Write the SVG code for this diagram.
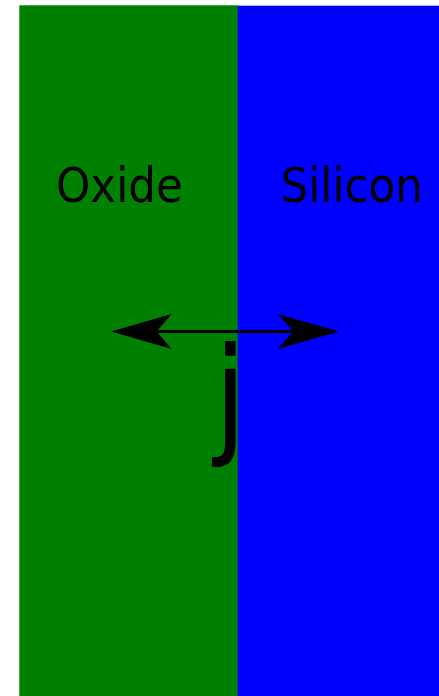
<svg xmlns="http://www.w3.org/2000/svg" width="439" height="696" viewBox="0 0 439 696">
<style>
.lbl{font-family:"DejaVu Sans Condensed","DejaVu Sans",sans-serif;fill:#000}
</style>
<rect width="439" height="696" fill="#fff"/>
<g id="oxide">
<rect x="19.3" y="5.3" width="219" height="691" fill="#008000"/>
<text class="lbl" x="56" y="201.5" font-size="48.5">Oxide</text>
</g>
<g id="silicon">
<rect x="237.7" y="5.7" width="202" height="691" fill="#0000ff"/>
<text class="lbl" x="280.5" y="201.5" font-size="48.5">Silicon</text>
</g>
<g id="connectors">
<line x1="155" y1="331.5" x2="295" y2="331.5" stroke="#000" stroke-width="3.2"/>
<path d="M111,331.5 L171.7,314 L156.7,331.5 L171.7,349 Z" fill="#000"/>
<path d="M339,331.5 L277.7,314 L293.3,331.5 L277.7,349 Z" fill="#000"/>
</g>
<g id="j">
<text class="lbl" x="214" y="440" font-size="130">j</text>
</g>
</svg>
